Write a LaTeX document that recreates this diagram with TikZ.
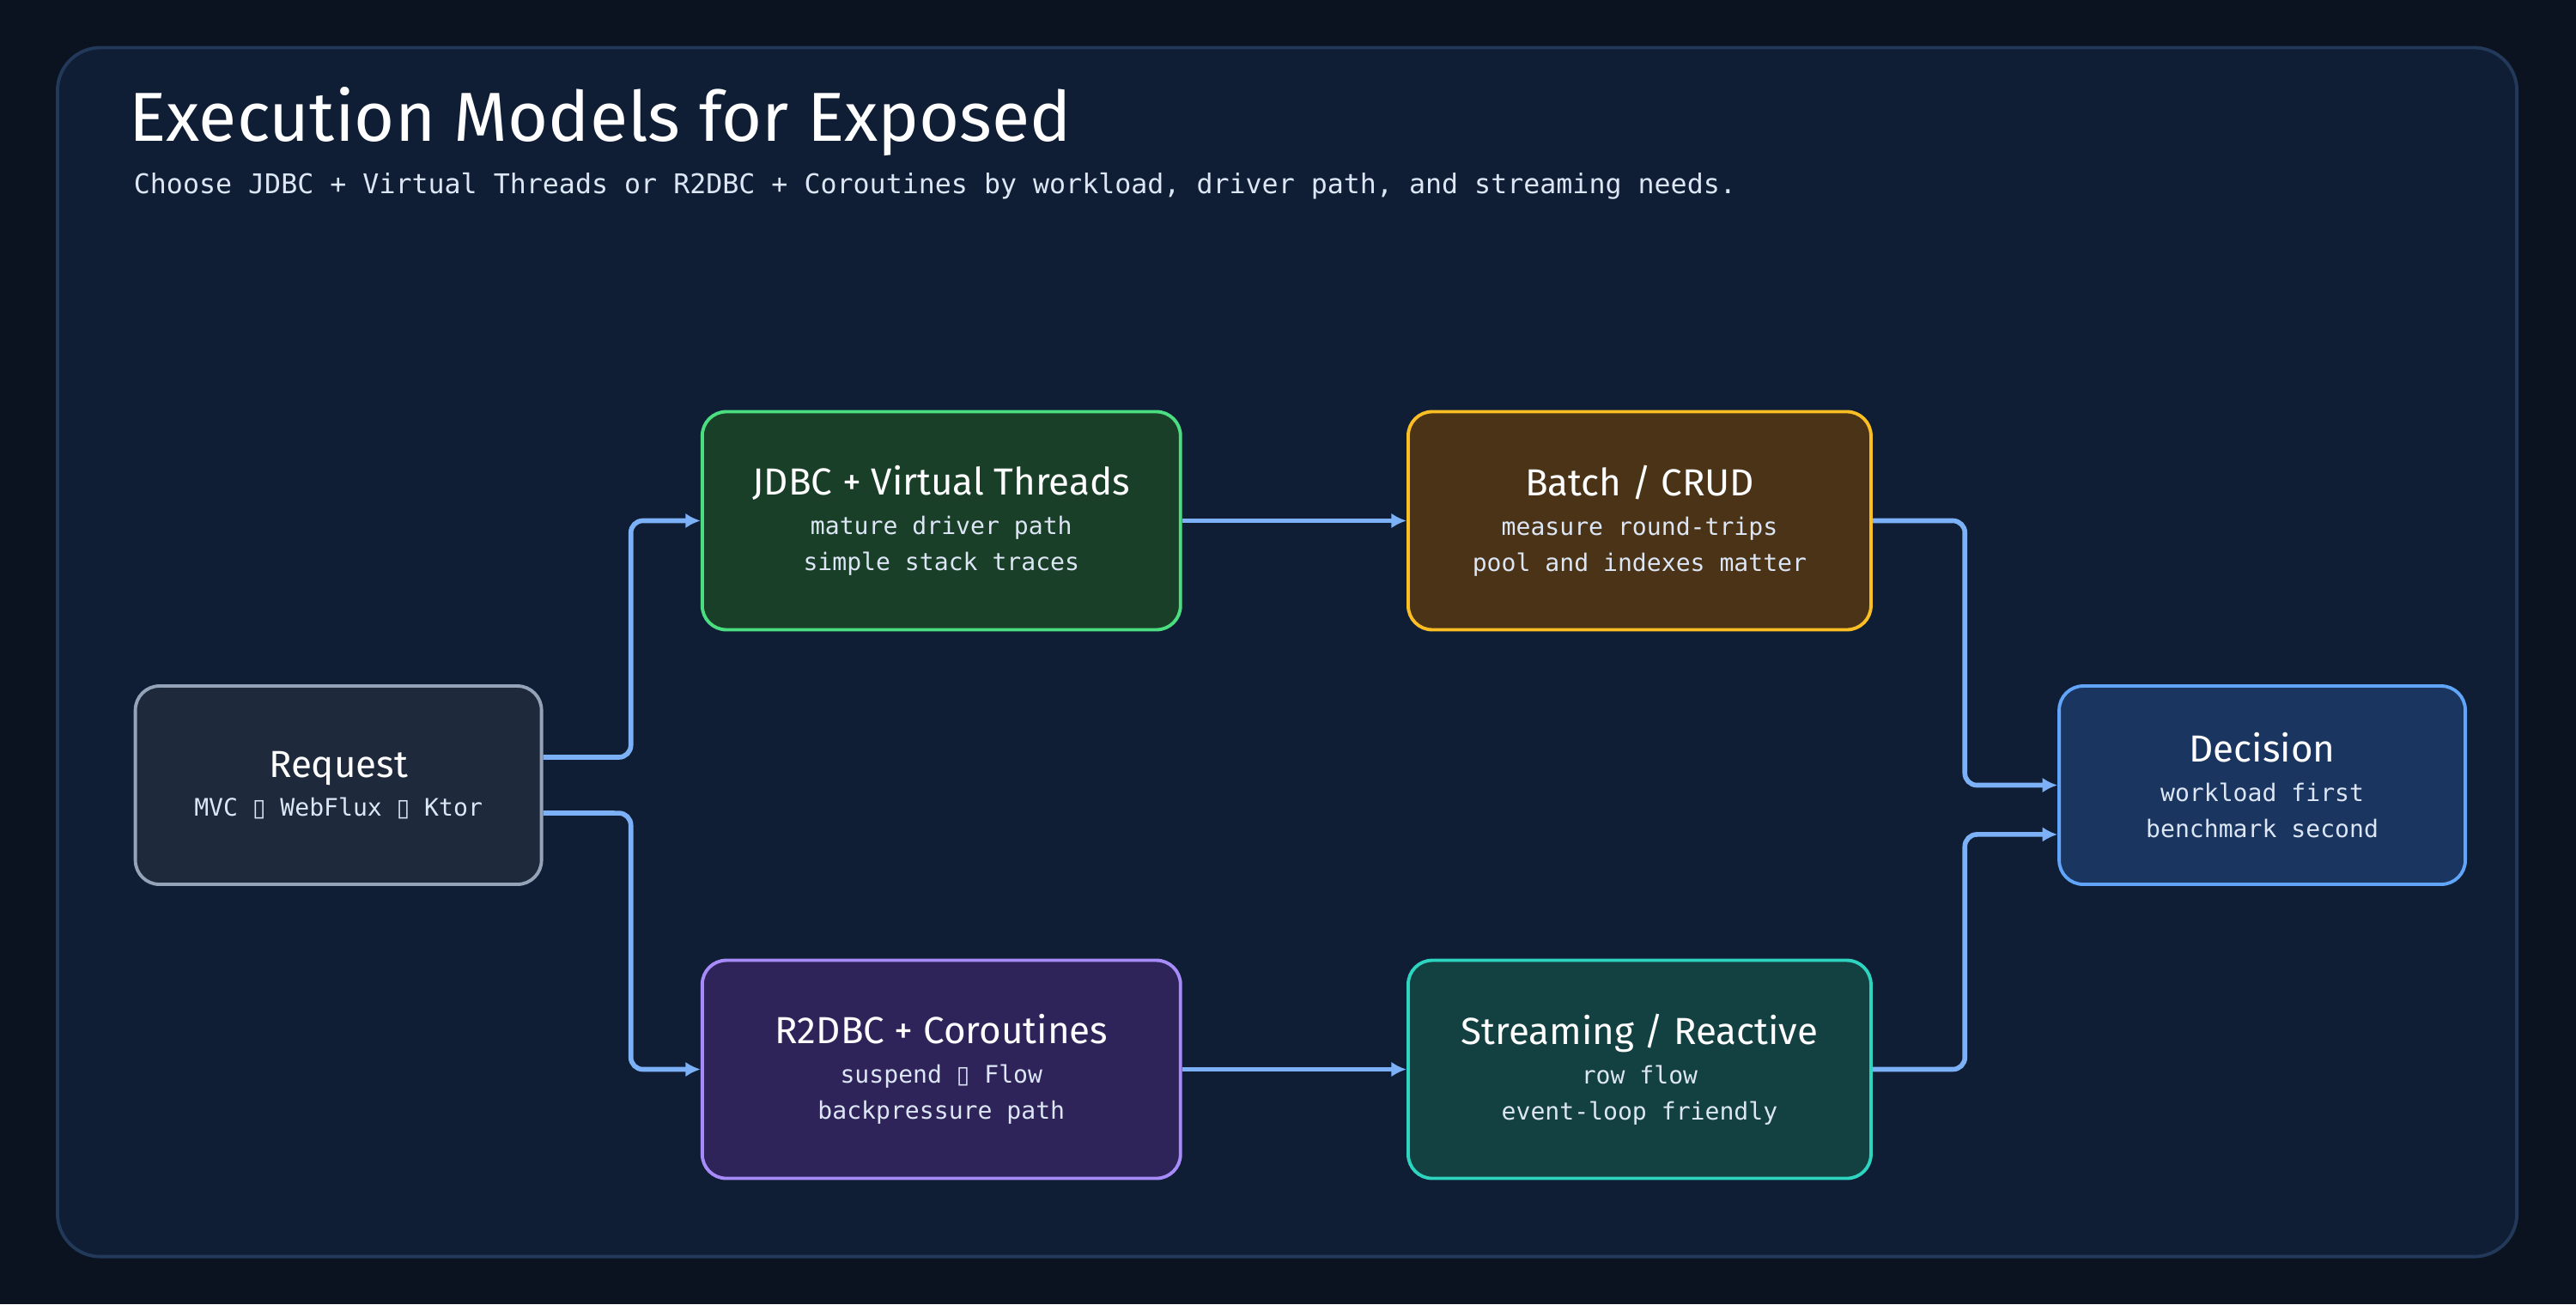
\documentclass[tikz,border=0pt]{standalone}
\usepackage{fontspec}
\setmainfont{Fira Sans}
\newfontfamily\monofont{DejaVu Sans Mono}
\newfontfamily\symfont{DejaVu Sans}
\usetikzlibrary{arrows.meta}
\definecolor{pagebg}{HTML}{0B1220}
\definecolor{panelbg}{HTML}{0F1D35}
\definecolor{panelline}{HTML}{22395A}
\definecolor{flowcol}{HTML}{7CB0F7}
\definecolor{subtext}{HTML}{DCE6F5}
\definecolor{reqfill}{HTML}{1E293B}\definecolor{reqline}{HTML}{94A3B8}
\definecolor{jdbcfill}{HTML}{1A3F28}\definecolor{jdbcline}{HTML}{4ADE80}
\definecolor{batchfill}{HTML}{4A3316}\definecolor{batchline}{HTML}{FBBF24}
\definecolor{r2fill}{HTML}{2E2459}\definecolor{r2line}{HTML}{A78BFA}
\definecolor{streamfill}{HTML}{134040}\definecolor{streamline}{HTML}{2DD4BF}
\definecolor{decfill}{HTML}{1A3560}\definecolor{decline}{HTML}{60A5FA}
\newcommand{\tofu}{{\symfont\char"25AF}}
\newcommand{\boxtext}[3]{{\fontsize{12.5}{15}\selectfont #1}\\[1pt]{\monofont\fontsize{8}{11}\selectfont\color{subtext}#2}\\{\monofont\fontsize{8}{11}\selectfont\color{subtext}#3}}
\tikzset{
  stage/.style={draw, line width=1.1pt, rounded corners=0.28cm, text=white,
    align=center, minimum width=5.57cm, minimum height=2.54cm, inner sep=2pt},
  flow/.style={draw=flowcol, line width=1.6pt, rounded corners=0.14cm,
    -{Latex[length=5pt,width=5pt]}}
}
\begin{document}
\begin{tikzpicture}[x=0.01913cm, y=-0.01913cm]
  \useasboundingbox (0,0) rectangle (1568,794);
  \fill[pagebg] (0,0) rectangle (1568,794);
  \draw[panelline, fill=panelbg, line width=1.1pt, rounded corners=0.5cm] (35,29) rectangle (1532,765);

  \node[anchor=base west, text=white, font=\fontsize{23}{26}\selectfont] (title) at (72,86) {Execution Models for Exposed};
  \node[anchor=base west, text=subtext, font=\monofont\fontsize{9}{11}\selectfont] (subtitle) at (75,118)
    {Choose JDBC + Virtual Threads or R2DBC + Coroutines by workload, driver path, and streaming needs.};

  % stages
  \node[stage, fill=reqfill, draw=reqline, minimum width=4.73cm, minimum height=2.31cm] (Request) at (206,478)
    {{\fontsize{12.5}{15}\selectfont Request}\\[1pt]{\monofont\fontsize{8}{11}\selectfont\color{subtext}MVC \tofu{} WebFlux \tofu{} Ktor}};
  \node[stage, fill=jdbcfill, draw=jdbcline] (JDBC) at (573,317)
    {\boxtext{JDBC + Virtual Threads}{mature driver path}{simple stack traces}};
  \node[stage, fill=batchfill, draw=batchline, minimum width=5.39cm] (Batch) at (998,317)
    {\boxtext{Batch / CRUD}{measure round-trips}{pool and indexes matter}};
  \node[stage, fill=r2fill, draw=r2line] (R2DBC) at (573,651)
    {\boxtext{R2DBC + Coroutines}{suspend \tofu{} Flow}{backpressure path}};
  \node[stage, fill=streamfill, draw=streamline, minimum width=5.39cm] (Streaming) at (998,651)
    {\boxtext{Streaming / Reactive}{row flow}{event-loop friendly}};
  \node[stage, fill=decfill, draw=decline, minimum width=4.73cm, minimum height=2.31cm] (Decision) at (1377,478)
    {\boxtext{Decision}{workload first}{benchmark second}};

  % flows
  \draw[flow] ([yshift=0.325cm]Request.east) -- (384,461) |- (JDBC.west);
  \draw[flow] ([yshift=-0.325cm]Request.east) -- (384,495) |- (R2DBC.west);
  \draw[flow] (JDBC) -- (Batch);
  \draw[flow] (R2DBC) -- (Streaming);
  \draw[flow] (Batch.east) -- (1196,317) |- (Decision.west);
  \draw[flow] (Streaming.east) -- (1196,651) |- ([yshift=-0.574cm]Decision.west);
\end{tikzpicture}
\end{document}
